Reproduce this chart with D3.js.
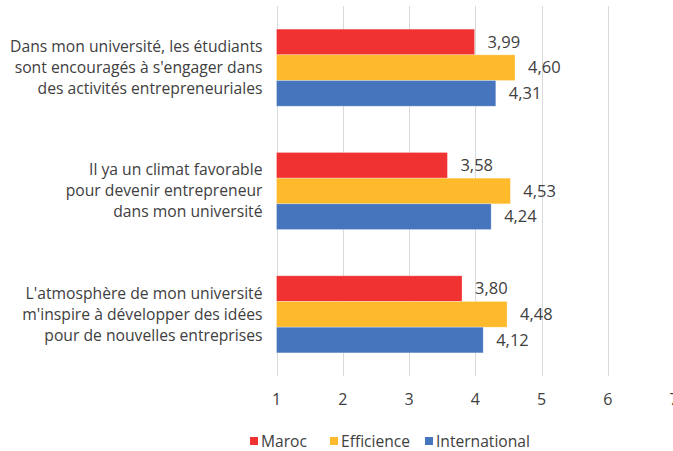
<!DOCTYPE html>
<html>
<head>
<meta charset="utf-8">
<script src="https://cdn.jsdelivr.net/npm/d3@7"></script>
<style>
  body { margin: 0; background: #fff; }
  svg { display: block; font-family: "Open Sans", sans-serif; }
  .grid line { stroke: #d9d9d9; stroke-width: 1; }
  .cat-label, .value-label, .tick-label, .legend text { fill: #404040; }
  .cat-label { font-size: 15.7px; }
  .value-label { font-size: 16.5px; }
  .tick-label { font-size: 16px; }
  .legend text { font-size: 15.6px; }
</style>
</head>
<body>
<div id="chart"></div>
<script>
(function(){
  // Category labels, already split across lines as in the source chart.
  const categories = ['q1', 'q2', 'q3'];
  const categoryLines = [
    ['Dans mon université, les étudiants', "sont encouragés à s'engager dans", 'des activités entrepreneuriales'],
    ['Il ya un climat favorable', 'pour devenir entrepreneur', 'dans mon université'],
    ["L'atmosphère de mon université", "m'inspire à développer des idées", 'pour de nouvelles entreprises']
  ];
  const series = ['Maroc', 'Efficience', 'International'];
  const maroc = [3.99, 3.58, 3.80];
  const efficience = [4.60, 4.53, 4.48];
  const international = [4.31, 4.24, 4.12];
  const xTicks = [1, 2, 3, 4, 5, 6, 7];

  const values = [maroc, efficience, international];
  const colors = ['#f03232', '#feba2a', '#4674bd'];

  const width = 673, height = 451;
  const margin = {top: 6, right: -1, bottom: 75, left: 276.5};

  const svg = d3.select('#chart').append('svg')
    .attr('width', width).attr('height', height);

  const x = d3.scaleLinear().domain([1, 7]).range([margin.left, width - margin.right]);
  const y = d3.scaleBand().domain(categories).range([margin.top, height - margin.bottom]).paddingInner(0.375).paddingOuter(0.1875);
  const ySub = d3.scaleBand().domain(series).range([0, y.bandwidth()]);

  // Vertical grid lines at every tick.
  svg.append('g').attr('class', 'grid')
    .selectAll('line').data(xTicks).join('line')
    .attr('x1', d => Math.round(x(d)) + 0.5).attr('x2', d => Math.round(x(d)) + 0.5)
    .attr('y1', margin.top).attr('y2', height - margin.bottom);

  // Bars per category and series.
  const rows = [];
  categories.forEach((c, i) => series.forEach((s, j) => rows.push({c, s, j, v: values[j][i]})));

  svg.append('g').selectAll('rect').data(rows).join('rect')
    .attr('x', x(1))
    .attr('y', d => y(d.c) + ySub(d.s))
    .attr('width', d => x(d.v) - x(1))
    .attr('height', ySub.bandwidth())
    .attr('fill', d => colors[d.j])
    .attr('stroke', 'rgba(255,255,255,0.35)')
    .attr('stroke-width', 0.8);

  const fmt = d => d3.format('.2f')(d).replace('.', ',');
  svg.append('g').selectAll('text').data(rows).join('text')
    .attr('class', 'value-label')
    .attr('x', d => x(d.v) + 13)
    .attr('y', d => y(d.c) + ySub(d.s) + ySub.bandwidth() / 2)
    .attr('dy', '0.35em')
    .text(d => fmt(d.v));

  // Multi-line category labels, right aligned before the axis.
  const lineGap = 21;
  const catG = svg.append('g').selectAll('text').data(categories).join('text')
    .attr('class', 'cat-label')
    .attr('text-anchor', 'end')
    .attr('x', margin.left - 14)
    .attr('y', d => y(d) + y.bandwidth() / 2);
  catG.selectAll('tspan').data((d, i) => categoryLines[i].map((t, k, a) => ({t, k, n: a.length})))
    .join('tspan')
    .attr('x', margin.left - 14)
    .attr('dy', (d) => d.k === 0 ? `${0.35 * 15.7 - (d.n - 1) / 2 * lineGap}px` : `${lineGap}px`)
    .text(d => d.t);

  // Tick labels under the plot.
  svg.append('g').selectAll('text').data(xTicks).join('text')
    .attr('class', 'tick-label')
    .attr('text-anchor', 'middle')
    .attr('x', d => x(d))
    .attr('y', 405)
    .text(d => d);

  // Legend.
  const legendX = [250, 330, 425];
  const lg = svg.append('g').attr('class', 'legend').selectAll('g').data(series).join('g')
    .attr('transform', (d, i) => `translate(${legendX[i]},437)`);
  lg.append('rect').attr('width', 8).attr('height', 8).attr('y', 0).attr('fill', (d, i) => colors[i]);
  lg.append('text').attr('x', 11).attr('y', 4).attr('dy', '0.38em').text(d => d);
})();
</script>
</body>
</html>
